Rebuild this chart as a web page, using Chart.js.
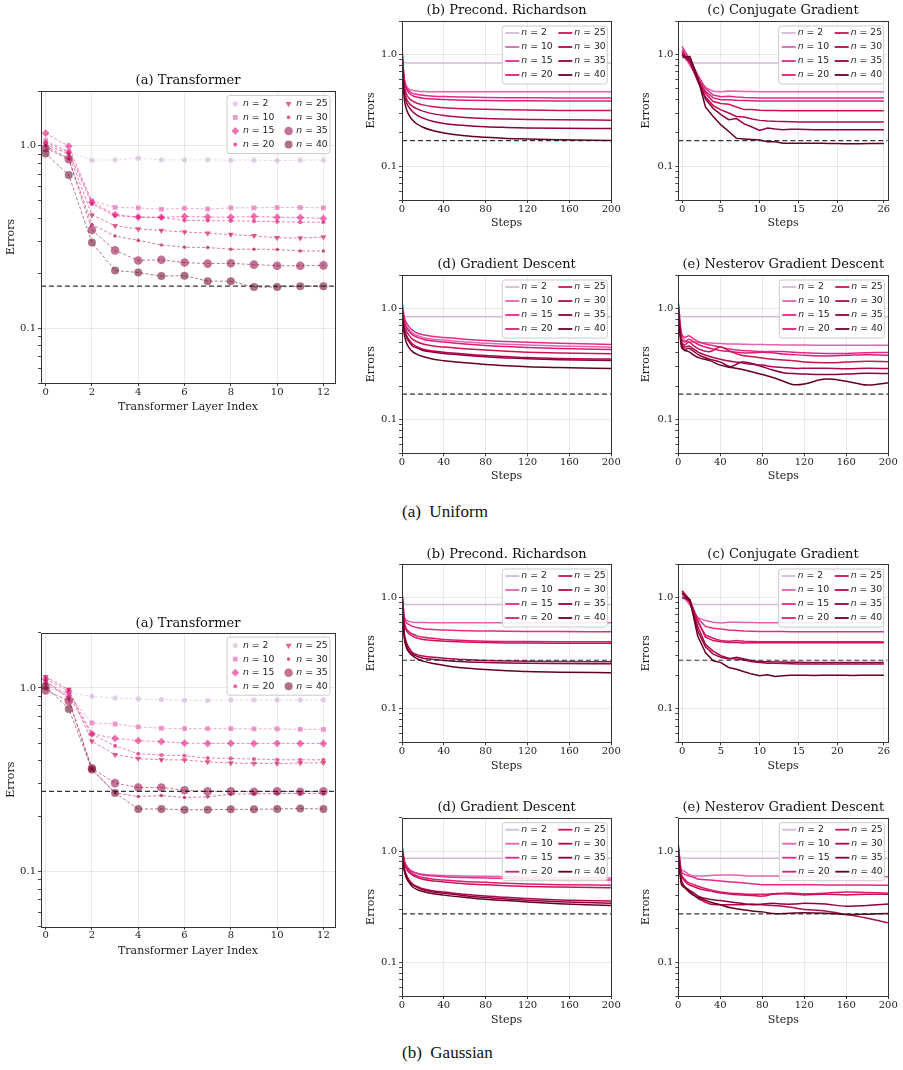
<!DOCTYPE html>
<html>
<head>
<meta charset="utf-8">
<script src="https://cdn.jsdelivr.net/npm/chart.js@4.4.1/dist/chart.umd.min.js"></script>
<style>
html, body { margin:0; padding:0; background:#ffffff; width:903px; height:1070px; overflow:hidden; position:relative; }
canvas { position:absolute; }
.cap { position:absolute; font-family:"Liberation Serif", "DejaVu Serif", serif; font-size:17px; line-height:20px; color:#111; white-space:pre; }
</style>
</head>
<body>
<div class="cap" style="left:402px; top:502px;">(a)  Uniform</div>
<div class="cap" style="left:402px; top:1043px;">(b)  Gaussian</div>
<script>
// ---------------- DATA ----------------
const nValues = ['2', '10', '15', '20', '25', '30', '35', '40'];

const layerIndex = [0, 1, 2, 3, 4, 5, 6, 7, 8, 9, 10, 11, 12];
const smoothSteps = [0, 2, 4, 7, 10, 15, 20, 30, 40, 60, 80, 100, 120, 150, 200];
const cgSteps = [0, 1, 2, 3, 4, 5, 6, 7, 8, 9, 10, 11, 12, 13, 14, 15, 16, 17, 18, 19, 20, 21, 22, 23, 24, 25, 26];
const nesterovSteps = [0, 3, 6, 10, 15, 20, 30, 40, 50, 60, 70, 80, 90, 100, 110, 120, 140, 160, 180, 200];

const layerTicks = [0, 2, 4, 6, 8, 10, 12];
const layerTickLabels = ['0', '2', '4', '6', '8', '10', '12'];
const stepTicks = [0, 40, 80, 120, 160, 200];
const stepTickLabels = ['0', '40', '80', '120', '160', '200'];
const cgTicks = [0, 5, 10, 15, 20, 26];
const cgTickLabels = ['0', '5', '10', '15', '20', '26'];
const yMajorTicks = [0.1, 1];
const yMajorLabels = ['0.1', '1.0'];
const yMinorTicks = [0.05, 0.06, 0.07, 0.08, 0.09, 0.2, 0.3, 0.4, 0.5, 0.6, 0.7, 0.8, 0.9, 2];

const uniformBaseline = 0.17;
const gaussianBaseline = 0.273;

// Uniform
const uniTransformer = [
  [0.97, 0.93, 0.835, 0.838, 0.856, 0.838, 0.838, 0.838, 0.835, 0.835, 0.83, 0.835, 0.835],
  [1.074, 0.93, 0.50, 0.46, 0.457, 0.449, 0.455, 0.45, 0.457, 0.457, 0.459, 0.459, 0.457],
  [1.173, 0.996, 0.49, 0.42, 0.407, 0.406, 0.41, 0.407, 0.406, 0.41, 0.406, 0.404, 0.40],
  [1.05, 0.92, 0.48, 0.414, 0.406, 0.404, 0.39, 0.389, 0.388, 0.386, 0.384, 0.381, 0.381],
  [1.02, 0.9, 0.418, 0.364, 0.35, 0.343, 0.337, 0.332, 0.326, 0.321, 0.313, 0.312, 0.316],
  [1.0, 0.85, 0.37, 0.32, 0.303, 0.286, 0.278, 0.277, 0.271, 0.271, 0.27, 0.265, 0.265],
  [0.97, 0.846, 0.346, 0.267, 0.235, 0.237, 0.229, 0.226, 0.227, 0.223, 0.22, 0.22, 0.221],
  [0.908, 0.691, 0.295, 0.207, 0.202, 0.193, 0.194, 0.181, 0.181, 0.168, 0.168, 0.17, 0.17]
];
const uniRichardson = [
  [0.95, 0.85, 0.845, 0.843, 0.842, 0.842, 0.842, 0.842, 0.842, 0.842, 0.842, 0.842, 0.842, 0.842, 0.842],
  [1.05, 0.62, 0.53, 0.49, 0.478, 0.471, 0.468, 0.466, 0.466, 0.465, 0.465, 0.465, 0.465, 0.465, 0.465],
  [1.18, 0.63, 0.52, 0.47, 0.45, 0.44, 0.433, 0.425, 0.421, 0.417, 0.414, 0.412, 0.411, 0.41, 0.41],
  [1.1, 0.6, 0.5, 0.45, 0.43, 0.415, 0.408, 0.4, 0.396, 0.391, 0.388, 0.387, 0.386, 0.385, 0.384],
  [1.05, 0.55, 0.45, 0.405, 0.385, 0.365, 0.355, 0.342, 0.335, 0.328, 0.324, 0.321, 0.319, 0.317, 0.316],
  [1.0, 0.5, 0.41, 0.365, 0.345, 0.325, 0.312, 0.295, 0.285, 0.274, 0.268, 0.265, 0.263, 0.261, 0.259],
  [1.0, 0.47, 0.38, 0.335, 0.31, 0.285, 0.27, 0.252, 0.242, 0.232, 0.226, 0.223, 0.221, 0.219, 0.218],
  [0.95, 0.42, 0.33, 0.285, 0.26, 0.237, 0.224, 0.208, 0.199, 0.188, 0.182, 0.178, 0.176, 0.173, 0.17]
];
const uniCG = [
  [0.95, 0.85, 0.842, 0.842, 0.842, 0.842, 0.842, 0.842, 0.842, 0.842, 0.842, 0.842, 0.842, 0.842, 0.842, 0.842, 0.842, 0.842, 0.842, 0.842, 0.842, 0.842, 0.842, 0.842, 0.842, 0.842, 0.842],
  [1.05, 0.8, 0.62, 0.51, 0.47, 0.465, 0.472, 0.47, 0.468, 0.467, 0.466, 0.466, 0.466, 0.465, 0.465, 0.465, 0.465, 0.465, 0.465, 0.465, 0.465, 0.465, 0.465, 0.465, 0.465, 0.465, 0.465],
  [1.18, 0.9, 0.66, 0.5, 0.435, 0.42, 0.425, 0.418, 0.413, 0.411, 0.41, 0.41, 0.41, 0.41, 0.41, 0.41, 0.41, 0.41, 0.41, 0.41, 0.41, 0.41, 0.41, 0.41, 0.41, 0.41, 0.41],
  [1.1, 0.85, 0.62, 0.47, 0.41, 0.395, 0.395, 0.39, 0.388, 0.386, 0.385, 0.384, 0.384, 0.384, 0.384, 0.384, 0.384, 0.384, 0.384, 0.384, 0.384, 0.384, 0.384, 0.384, 0.384, 0.384, 0.384],
  [1.05, 0.85, 0.6, 0.45, 0.38, 0.365, 0.36, 0.34, 0.322, 0.322, 0.318, 0.316, 0.316, 0.315, 0.315, 0.315, 0.314, 0.314, 0.314, 0.314, 0.314, 0.314, 0.314, 0.314, 0.314, 0.314, 0.314],
  [1.0, 0.85, 0.58, 0.42, 0.35, 0.32, 0.3, 0.28, 0.277, 0.265, 0.258, 0.255, 0.253, 0.252, 0.251, 0.25, 0.25, 0.25, 0.25, 0.25, 0.25, 0.25, 0.25, 0.25, 0.25, 0.25, 0.25],
  [1.0, 0.9, 0.6, 0.4, 0.33, 0.29, 0.262, 0.268, 0.24, 0.225, 0.21, 0.22, 0.216, 0.213, 0.215, 0.215, 0.214, 0.213, 0.213, 0.213, 0.213, 0.213, 0.213, 0.213, 0.213, 0.213, 0.213],
  [0.95, 0.96, 0.62, 0.34, 0.28, 0.235, 0.205, 0.178, 0.176, 0.174, 0.172, 0.166, 0.166, 0.161, 0.161, 0.161, 0.161, 0.161, 0.161, 0.16, 0.16, 0.159, 0.159, 0.159, 0.16, 0.16, 0.16]
];
const uniGD = [
  [0.95, 0.85, 0.845, 0.843, 0.842, 0.842, 0.842, 0.842, 0.842, 0.842, 0.842, 0.842, 0.842, 0.842, 0.842],
  [1.05, 0.8, 0.7, 0.64, 0.6, 0.57, 0.55, 0.53, 0.52, 0.5, 0.487, 0.478, 0.47, 0.46, 0.449],
  [1.15, 0.85, 0.75, 0.68, 0.64, 0.6, 0.58, 0.56, 0.55, 0.53, 0.515, 0.505, 0.497, 0.487, 0.475],
  [1.1, 0.78, 0.68, 0.62, 0.58, 0.55, 0.53, 0.51, 0.5, 0.48, 0.465, 0.455, 0.447, 0.438, 0.428],
  [1.05, 0.72, 0.63, 0.57, 0.53, 0.5, 0.48, 0.46, 0.45, 0.435, 0.423, 0.413, 0.405, 0.398, 0.392],
  [1.0, 0.68, 0.58, 0.52, 0.48, 0.45, 0.43, 0.415, 0.405, 0.39, 0.378, 0.37, 0.362, 0.356, 0.351],
  [1.0, 0.66, 0.56, 0.5, 0.46, 0.44, 0.42, 0.405, 0.395, 0.38, 0.368, 0.36, 0.353, 0.347, 0.341],
  [0.95, 0.6, 0.5, 0.44, 0.41, 0.385, 0.37, 0.35, 0.34, 0.325, 0.314, 0.306, 0.3, 0.295, 0.289]
];
const uniNesterov = [
  [0.9, 0.85, 0.843, 0.842, 0.842, 0.842, 0.842, 0.842, 0.842, 0.842, 0.842, 0.842, 0.842, 0.842, 0.842, 0.842, 0.842, 0.842, 0.842, 0.842],
  [1.05, 0.6, 0.52, 0.5, 0.5, 0.495, 0.49, 0.485, 0.48, 0.478, 0.476, 0.474, 0.472, 0.47, 0.47, 0.469, 0.468, 0.468, 0.468, 0.468],
  [1.15, 0.6, 0.55, 0.57, 0.53, 0.5, 0.47, 0.45, 0.43, 0.42, 0.415, 0.41, 0.41, 0.41, 0.405, 0.4, 0.395, 0.395, 0.4, 0.403],
  [1.1, 0.55, 0.5, 0.53, 0.5, 0.47, 0.44, 0.42, 0.41, 0.4, 0.4, 0.405, 0.4, 0.39, 0.385, 0.38, 0.375, 0.38, 0.385, 0.381],
  [1.05, 0.52, 0.47, 0.5, 0.46, 0.43, 0.41, 0.45, 0.41, 0.38, 0.37, 0.36, 0.35, 0.345, 0.34, 0.33, 0.325, 0.33, 0.335, 0.332],
  [1.0, 0.5, 0.45, 0.46, 0.43, 0.4, 0.37, 0.35, 0.335, 0.325, 0.315, 0.31, 0.3, 0.295, 0.29, 0.29, 0.29, 0.288, 0.29, 0.289],
  [1.0, 0.48, 0.43, 0.44, 0.41, 0.38, 0.35, 0.33, 0.3, 0.33, 0.32, 0.3, 0.28, 0.265, 0.26, 0.258, 0.255, 0.258, 0.262, 0.26],
  [0.95, 0.45, 0.42, 0.41, 0.38, 0.36, 0.34, 0.31, 0.295, 0.285, 0.27, 0.255, 0.24, 0.222, 0.207, 0.21, 0.232, 0.222, 0.205, 0.215]
];

// Gaussian
const gauTransformer = [
  [1.0, 0.94, 0.90, 0.882, 0.871, 0.864, 0.856, 0.853, 0.86, 0.86, 0.86, 0.86, 0.86],
  [1.08, 0.92, 0.644, 0.636, 0.613, 0.603, 0.6, 0.6, 0.6, 0.598, 0.598, 0.595, 0.595],
  [1.12, 0.96, 0.563, 0.531, 0.516, 0.51, 0.501, 0.498, 0.499, 0.498, 0.499, 0.498, 0.498],
  [1.05, 0.9, 0.559, 0.483, 0.438, 0.431, 0.427, 0.415, 0.413, 0.41, 0.406, 0.406, 0.406],
  [1.15, 0.98, 0.512, 0.433, 0.412, 0.406, 0.405, 0.395, 0.39, 0.388, 0.387, 0.39, 0.391],
  [1.1, 0.87, 0.362, 0.268, 0.256, 0.259, 0.253, 0.255, 0.264, 0.265, 0.266, 0.266, 0.266],
  [0.97, 0.85, 0.365, 0.303, 0.287, 0.287, 0.277, 0.273, 0.273, 0.272, 0.273, 0.272, 0.273],
  [1.02, 0.768, 0.359, 0.268, 0.219, 0.219, 0.217, 0.217, 0.218, 0.218, 0.219, 0.22, 0.219]
];
const gauRichardson = [
  [1.0, 0.87, 0.866, 0.866, 0.866, 0.866, 0.866, 0.866, 0.866, 0.866, 0.866, 0.866, 0.866, 0.866, 0.866],
  [1.1, 0.68, 0.63, 0.61, 0.6, 0.597, 0.595, 0.594, 0.594, 0.593, 0.593, 0.593, 0.593, 0.593, 0.593],
  [1.15, 0.68, 0.6, 0.57, 0.55, 0.535, 0.525, 0.515, 0.51, 0.503, 0.5, 0.497, 0.495, 0.494, 0.493],
  [1.1, 0.62, 0.53, 0.49, 0.47, 0.45, 0.44, 0.43, 0.42, 0.41, 0.405, 0.403, 0.402, 0.401, 0.40],
  [1.15, 0.6, 0.51, 0.47, 0.45, 0.43, 0.42, 0.41, 0.405, 0.398, 0.394, 0.391, 0.39, 0.389, 0.388],
  [1.1, 0.5, 0.4, 0.35, 0.32, 0.305, 0.298, 0.29, 0.285, 0.277, 0.272, 0.269, 0.267, 0.266, 0.265],
  [1.05, 0.48, 0.38, 0.33, 0.31, 0.295, 0.285, 0.278, 0.272, 0.265, 0.261, 0.258, 0.256, 0.255, 0.254],
  [1.0, 0.45, 0.36, 0.32, 0.3, 0.28, 0.268, 0.255, 0.246, 0.232, 0.225, 0.22, 0.216, 0.213, 0.211]
];
const gauCG = [
  [1.0, 0.88, 0.866, 0.866, 0.866, 0.866, 0.866, 0.866, 0.866, 0.866, 0.866, 0.866, 0.866, 0.866, 0.866, 0.866, 0.866, 0.866, 0.866, 0.866, 0.866, 0.866, 0.866, 0.866, 0.866, 0.866, 0.866],
  [1.05, 0.85, 0.66, 0.62, 0.6, 0.59, 0.6, 0.598, 0.596, 0.595, 0.594, 0.594, 0.593, 0.593, 0.593, 0.593, 0.593, 0.593, 0.593, 0.593, 0.593, 0.593, 0.593, 0.593, 0.593, 0.593, 0.593],
  [1.15, 0.9, 0.65, 0.55, 0.53, 0.52, 0.51, 0.505, 0.5, 0.498, 0.496, 0.495, 0.494, 0.494, 0.493, 0.493, 0.493, 0.493, 0.493, 0.493, 0.493, 0.493, 0.493, 0.493, 0.493, 0.493, 0.493],
  [1.1, 0.9, 0.6, 0.46, 0.43, 0.41, 0.405, 0.41, 0.405, 0.402, 0.4, 0.4, 0.4, 0.4, 0.4, 0.4, 0.4, 0.4, 0.4, 0.4, 0.4, 0.4, 0.4, 0.4, 0.4, 0.4, 0.4],
  [1.15, 0.95, 0.62, 0.44, 0.41, 0.4, 0.395, 0.395, 0.39, 0.392, 0.392, 0.392, 0.392, 0.392, 0.392, 0.392, 0.392, 0.392, 0.392, 0.392, 0.392, 0.392, 0.392, 0.392, 0.392, 0.392, 0.392],
  [1.1, 0.9, 0.55, 0.38, 0.33, 0.3, 0.285, 0.28, 0.275, 0.265, 0.26, 0.257, 0.256, 0.255, 0.254, 0.253, 0.253, 0.253, 0.253, 0.253, 0.253, 0.253, 0.253, 0.253, 0.253, 0.253, 0.253],
  [1.0, 0.95, 0.5, 0.36, 0.31, 0.29, 0.28, 0.29, 0.28, 0.27, 0.265, 0.265, 0.264, 0.263, 0.262, 0.262, 0.261, 0.26, 0.26, 0.26, 0.26, 0.26, 0.26, 0.26, 0.26, 0.26, 0.26],
  [1.1, 0.95, 0.45, 0.32, 0.27, 0.26, 0.235, 0.227, 0.215, 0.205, 0.198, 0.202, 0.195, 0.198, 0.2, 0.2, 0.2, 0.199, 0.2, 0.2, 0.2, 0.2, 0.199, 0.2, 0.2, 0.2, 0.2]
];
const gauGD = [
  [1.0, 0.88, 0.866, 0.866, 0.866, 0.866, 0.866, 0.866, 0.866, 0.866, 0.866, 0.866, 0.866, 0.866, 0.866],
  [1.05, 0.8, 0.72, 0.67, 0.65, 0.63, 0.62, 0.61, 0.605, 0.6, 0.595, 0.59, 0.585, 0.58, 0.575],
  [1.15, 0.85, 0.75, 0.69, 0.66, 0.63, 0.61, 0.6, 0.59, 0.58, 0.575, 0.568, 0.562, 0.555, 0.55],
  [1.1, 0.82, 0.72, 0.66, 0.63, 0.6, 0.58, 0.56, 0.55, 0.535, 0.525, 0.515, 0.508, 0.5, 0.495],
  [1.1, 0.8, 0.7, 0.64, 0.61, 0.58, 0.56, 0.54, 0.53, 0.51, 0.5, 0.49, 0.483, 0.477, 0.47],
  [1.05, 0.72, 0.62, 0.55, 0.51, 0.48, 0.46, 0.44, 0.43, 0.41, 0.395, 0.385, 0.375, 0.365, 0.356],
  [1.0, 0.7, 0.6, 0.53, 0.5, 0.47, 0.45, 0.43, 0.418, 0.398, 0.383, 0.372, 0.363, 0.352, 0.34],
  [0.95, 0.68, 0.58, 0.52, 0.48, 0.45, 0.435, 0.415, 0.403, 0.385, 0.37, 0.36, 0.35, 0.338, 0.325]
];
const gauNesterov = [
  [0.95, 0.87, 0.866, 0.866, 0.866, 0.866, 0.866, 0.866, 0.866, 0.866, 0.866, 0.866, 0.866, 0.866, 0.866, 0.866, 0.866, 0.866, 0.866, 0.866],
  [1.05, 0.68, 0.66, 0.62, 0.6, 0.6, 0.605, 0.61, 0.61, 0.605, 0.6, 0.6, 0.6, 0.6, 0.598, 0.597, 0.595, 0.593, 0.59, 0.588],
  [1.15, 0.65, 0.62, 0.6, 0.58, 0.56, 0.55, 0.54, 0.53, 0.52, 0.51, 0.5, 0.5, 0.5, 0.5, 0.5, 0.498, 0.497, 0.496, 0.495],
  [1.1, 0.62, 0.56, 0.52, 0.5, 0.48, 0.45, 0.43, 0.42, 0.415, 0.41, 0.41, 0.415, 0.42, 0.42, 0.415, 0.42, 0.43, 0.425, 0.42],
  [1.1, 0.6, 0.54, 0.5, 0.48, 0.46, 0.44, 0.42, 0.41, 0.405, 0.4, 0.395, 0.41, 0.415, 0.41, 0.405, 0.41, 0.405, 0.41, 0.41],
  [1.05, 0.55, 0.48, 0.43, 0.4, 0.37, 0.335, 0.33, 0.33, 0.33, 0.335, 0.33, 0.325, 0.32, 0.31, 0.3, 0.29, 0.27, 0.25, 0.227],
  [1.0, 0.52, 0.48, 0.45, 0.42, 0.39, 0.37, 0.36, 0.35, 0.34, 0.33, 0.335, 0.34, 0.335, 0.335, 0.34, 0.335, 0.32, 0.325, 0.335],
  [0.95, 0.5, 0.47, 0.44, 0.4, 0.38, 0.35, 0.33, 0.31, 0.3, 0.29, 0.285, 0.275, 0.275, 0.278, 0.28, 0.277, 0.27, 0.272, 0.276]
];

// ---------------- STYLE ----------------
const seriesColors = ['#d4b9da', '#df65b0', '#e7298a', '#dd1c77', '#ce1256', '#b00a4f', '#91003f', '#67001f'];
const markerStyles = [
  { style: 'circle', r: 2.6, rot: 0 },
  { style: 'rect', r: 3.4, rot: 0 },
  { style: 'rectRot', r: 3.9, rot: 0 },
  { style: 'circle', r: 2.1, rot: 0 },
  { style: 'triangle', r: 3.5, rot: 180 },
  { style: 'circle', r: 1.8, rot: 0 },
  { style: 'circle', r: 4.3, rot: 0 },
  { style: 'circle', r: 4.0, rot: 0 }
];
const FRAME = '#333333';
const GRID = 'rgba(0,0,0,0.085)';

Chart.defaults.font.family = '"DejaVu Serif", serif';
Chart.defaults.color = '#1a1a1a';

function withAlpha(hex, a) {
  const v = parseInt(hex.slice(1), 16);
  return 'rgba(' + ((v >> 16) & 255) + ',' + ((v >> 8) & 255) + ',' + (v & 255) + ',' + a + ')';
}

const framePlugin = {
  id: 'frame',
  afterDatasetsDraw(chart) {
    const { ctx, chartArea: a } = chart;
    ctx.save();
    ctx.strokeStyle = FRAME;
    ctx.lineWidth = 1;
    ctx.setLineDash([]);
    ctx.strokeRect(Math.round(a.left) + 0.5, Math.round(a.top) + 0.5, Math.round(a.right) - Math.round(a.left), Math.round(a.bottom) - Math.round(a.top));
    ctx.restore();
  }
};

const innerLegendPlugin = {
  id: 'innerLegend',
  afterDraw(chart, args, o) {
    if (!o || !o.show) return;
    const ctx = chart.ctx, a = chart.chartArea;
    const items = chart.data.datasets.filter(d => d.inLegend);
    const x0 = a.right - o.right - o.width, y0 = a.top + o.top;
    ctx.save();
    ctx.beginPath();
    const r = 2.5, w = o.width, h = o.height;
    ctx.moveTo(x0 + r, y0);
    ctx.lineTo(x0 + w - r, y0); ctx.arcTo(x0 + w, y0, x0 + w, y0 + r, r);
    ctx.lineTo(x0 + w, y0 + h - r); ctx.arcTo(x0 + w, y0 + h, x0 + w - r, y0 + h, r);
    ctx.lineTo(x0 + r, y0 + h); ctx.arcTo(x0, y0 + h, x0, y0 + h - r, r);
    ctx.lineTo(x0, y0 + r); ctx.arcTo(x0, y0, x0 + r, y0, r);
    ctx.closePath();
    ctx.fillStyle = 'rgba(255,255,255,0.85)';
    ctx.fill();
    ctx.strokeStyle = '#cccccc';
    ctx.lineWidth = 1;
    ctx.stroke();
    items.forEach((d, i) => {
      const col = Math.floor(i / 4), row = i % 4;
      const hx = x0 + o.colX[col];
      const cy = y0 + o.row0 + row * o.rowH;
      if (o.kind === 'line') {
        ctx.beginPath();
        ctx.setLineDash([]);
        ctx.strokeStyle = d.borderColor;
        ctx.lineWidth = d.borderWidth + 0.3;
        ctx.moveTo(hx, cy);
        ctx.lineTo(hx + o.handleLen, cy);
        ctx.stroke();
      } else {
        ctx.fillStyle = d.pointBackgroundColor;
        Chart.helpers.drawPoint(ctx, { pointStyle: d.pointStyle, rotation: d.pointRotation, radius: d.pointRadius, borderWidth: 0 }, hx, cy);
      }
      const tx = hx + o.textOff;
      ctx.fillStyle = '#262626';
      ctx.textBaseline = 'middle';
      ctx.textAlign = 'left';
      ctx.font = 'italic 9.3px "DejaVu Sans"';
      ctx.fillText('n', tx, cy);
      const nw = ctx.measureText('n').width;
      ctx.font = '9.3px "DejaVu Sans"';
      ctx.fillText(' = ' + d.label, tx + nw, cy);
    });
    ctx.restore();
  }
};

function yLogAxis(yw) {
  return {
    type: 'logarithmic', min: 0.05, max: 2,
    afterBuildTicks: (s) => { s.ticks = yMinorTicks.concat(yMajorTicks).sort((p, q) => p - q).map(v => ({ value: v })); },
    afterFit: (s) => { s.width = yw; },
    ticks: {
      autoSkip: false, padding: 2, font: { size: 10 }, color: '#1a1a1a',
      callback: (v) => { const i = yMajorTicks.indexOf(v); return i >= 0 ? yMajorLabels[i] : ''; }
    },
    grid: {
      color: (c) => (c.tick && yMajorTicks.includes(c.tick.value)) ? GRID : 'rgba(0,0,0,0)',
      tickColor: FRAME, tickLength: 3, tickWidth: 0.9, drawTicks: true
    },
    border: { display: false },
    title: { display: true, text: 'Errors', font: { size: 11 }, padding: { top: 0, bottom: 0 }, color: '#1a1a1a' }
  };
}

function buildPanel(p, xAxis, datasets, legendOpts) {
  const left = Math.floor(p.ylabX - 6.6), top = Math.floor(p.titleY - 7.8);
  const right = Math.ceil(p.R + 18), bottom = Math.ceil(p.xlabY + 6.6);
  const cv = document.createElement('canvas');
  cv.width = right - left; cv.height = bottom - top;
  cv.style.left = left + 'px'; cv.style.top = top + 'px';
  cv.style.width = (right - left) + 'px'; cv.style.height = (bottom - top) + 'px';
  document.body.appendChild(cv);
  const yw = p.L - left, xh = bottom - p.B;
  const titlePadBottom = p.T - top - 15.6;
  new Chart(cv, {
    type: 'line',
    data: { datasets },
    options: {
      responsive: false, animation: false, devicePixelRatio: 1,
      events: [],
      layout: { padding: { left: 0, top: 0, bottom: 0, right: right - p.R } },
      plugins: {
        legend: { display: false },
        tooltip: { enabled: false },
        title: { display: true, text: p.title, fullSize: false, color: '#111',
                 font: { size: 13, weight: 'normal', lineHeight: 1.2 },
                 padding: { top: 0, bottom: titlePadBottom } },
        innerLegend: legendOpts
      },
      scales: {
        x: {
          type: 'linear', min: xAxis.min, max: xAxis.max,
          afterBuildTicks: (s) => { s.ticks = xAxis.ticks.map(v => ({ value: v })); },
          afterFit: (s) => { s.height = xh; },
          ticks: { autoSkip: false, maxRotation: 0, padding: 0, font: { size: 10 }, color: '#1a1a1a',
                   callback: (v) => { const i = xAxis.ticks.indexOf(v); return i >= 0 ? xAxis.labels[i] : ''; } },
          grid: { color: GRID, tickColor: FRAME, tickLength: 3, drawTicks: true },
          border: { display: false },
          title: { display: true, text: xAxis.title, font: { size: 11 }, padding: { top: 0, bottom: 0 }, color: '#1a1a1a' }
        },
        y: yLogAxis(yw)
      }
    },
    plugins: [framePlugin, innerLegendPlugin]
  });
}

function baselineDataset(xmin, xmax, value) {
  return {
    label: 'baseline', inLegend: false, order: 0,
    data: [{ x: xmin, y: value }, { x: xmax, y: value }],
    borderColor: 'rgba(30,30,30,0.9)', borderWidth: 1.2, borderDash: [5, 3],
    pointRadius: 0, tension: 0
  };
}

function transformerDatasets(series, baseline, xAxis) {
  const ds = series.map((vals, i) => ({
    label: nValues[i], inLegend: true, order: nValues.length - i,
    data: layerIndex.map((k, j) => ({ x: k, y: vals[j] })),
    borderColor: withAlpha(seriesColors[i], 0.6), borderWidth: 0.9, borderDash: [3, 2],
    pointStyle: markerStyles[i].style, pointRadius: markerStyles[i].r, pointRotation: markerStyles[i].rot,
    pointBackgroundColor: withAlpha(seriesColors[i], i >= 6 ? 0.55 : 0.65), pointBorderWidth: 0,
    tension: 0
  }));
  ds.push(baselineDataset(xAxis.min, xAxis.max, baseline));
  return ds;
}

function curveDatasets(series, steps, baseline, xAxis, curve) {
  const ds = series.map((vals, i) => Object.assign({
    label: nValues[i], inLegend: true, order: nValues.length - i,
    data: steps.map((s, j) => ({ x: s, y: vals[j] })),
    borderColor: seriesColors[i], borderWidth: 1.5,
    pointRadius: 0
  }, curve));
  ds.push(baselineDataset(xAxis.min, xAxis.max, baseline));
  return ds;
}

const layerAxis = { min: -0.2, max: 12.5, ticks: layerTicks, labels: layerTickLabels, title: 'Transformer Layer Index' };
const stepAxis = { min: 0, max: 200, ticks: stepTicks, labels: stepTickLabels, title: 'Steps' };
const cgAxis = { min: -0.5, max: 26.5, ticks: cgTicks, labels: cgTickLabels, title: 'Steps' };

const smoothCurve = { cubicInterpolationMode: 'monotone' };
const wavyCurve = { tension: 0.35 };
const straightCurve = { tension: 0 };

const markerLegend = { show: true, kind: 'marker', width: 103, height: 58, right: 5, top: 4.5, colX: [8.3, 61.6], textOff: 7.7, row0: 8.3, rowH: 13.6 };
const lineLegend = { show: true, kind: 'line', width: 105, height: 58, right: 4, top: 5, colX: [3, 56], handleLen: 14, textOff: 16, row0: 7, rowH: 14 };

const P = {
  ua: { title: '(a) Transformer', L: 41, T: 91, R: 335, B: 383, titleY: 81, ylabX: 11.7, xlabY: 407 },
  ub: { title: '(b) Precond. Richardson', L: 402, T: 21, R: 611.3, B: 200, titleY: 11, ylabX: 371.7, xlabY: 222.7 },
  uc: { title: '(c) Conjugate Gradient', L: 678.3, T: 21, R: 887.7, B: 200, titleY: 11, ylabX: 647.3, xlabY: 222.7 },
  ud: { title: '(d) Gradient Descent', L: 402, T: 275, R: 611.3, B: 453.3, titleY: 265, ylabX: 371.7, xlabY: 476 },
  ue: { title: '(e) Nesterov Gradient Descent', L: 678.3, T: 275, R: 888.3, B: 453.3, titleY: 265, ylabX: 647.3, xlabY: 476 },
  ga: { title: '(a) Transformer', L: 41, T: 632.7, R: 335, B: 926.7, titleY: 624, ylabX: 11.7, xlabY: 950.7 },
  gb: { title: '(b) Precond. Richardson', L: 402, T: 564, R: 611.3, B: 742.3, titleY: 555, ylabX: 371.7, xlabY: 766 },
  gc: { title: '(c) Conjugate Gradient', L: 678.3, T: 564, R: 887.7, B: 742.3, titleY: 555, ylabX: 647.3, xlabY: 766 },
  gd: { title: '(d) Gradient Descent', L: 402, T: 817.7, R: 611.3, B: 996, titleY: 808, ylabX: 371.7, xlabY: 1019.5 },
  ge: { title: '(e) Nesterov Gradient Descent', L: 678.3, T: 817.7, R: 888.3, B: 996, titleY: 808, ylabX: 647.3, xlabY: 1019.5 }
};

buildPanel(P.ua, layerAxis, transformerDatasets(uniTransformer, uniformBaseline, layerAxis), markerLegend);
buildPanel(P.ub, stepAxis, curveDatasets(uniRichardson, smoothSteps, uniformBaseline, stepAxis, smoothCurve), lineLegend);
buildPanel(P.uc, cgAxis, curveDatasets(uniCG, cgSteps, uniformBaseline, cgAxis, straightCurve), lineLegend);
buildPanel(P.ud, stepAxis, curveDatasets(uniGD, smoothSteps, uniformBaseline, stepAxis, smoothCurve), lineLegend);
buildPanel(P.ue, stepAxis, curveDatasets(uniNesterov, nesterovSteps, uniformBaseline, stepAxis, wavyCurve), lineLegend);

buildPanel(P.ga, layerAxis, transformerDatasets(gauTransformer, gaussianBaseline, layerAxis), markerLegend);
buildPanel(P.gb, stepAxis, curveDatasets(gauRichardson, smoothSteps, gaussianBaseline, stepAxis, smoothCurve), lineLegend);
buildPanel(P.gc, cgAxis, curveDatasets(gauCG, cgSteps, gaussianBaseline, cgAxis, straightCurve), lineLegend);
buildPanel(P.gd, stepAxis, curveDatasets(gauGD, smoothSteps, gaussianBaseline, stepAxis, smoothCurve), lineLegend);
buildPanel(P.ge, stepAxis, curveDatasets(gauNesterov, nesterovSteps, gaussianBaseline, stepAxis, wavyCurve), lineLegend);
</script>
</body>
</html>
